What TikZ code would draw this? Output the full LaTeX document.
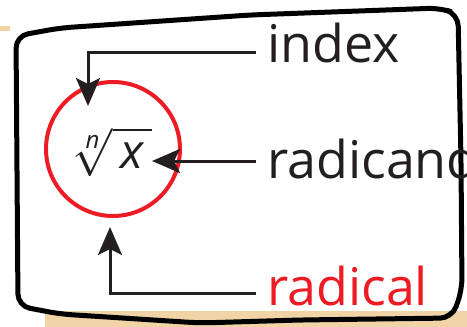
\documentclass[tikz,border=0pt]{standalone}
\usepackage{amsmath}
\usepackage{fontspec}
\setmainfont{Open Sans}
\usetikzlibrary{arrows.meta}
\definecolor{ink}{RGB}{35,31,32}
\definecolor{mark}{RGB}{237,28,36}
\definecolor{paper}{RGB}{240,212,165}
\tikzset{
  % arrow from a label to the part it names
  pointer/.style={draw=ink, line width=3pt, -{Stealth[length=28pt, width=24pt, inset=6pt]}},
  term/.style={anchor=base west, inner xsep=11pt, inner ysep=0pt, text=ink,
    font=\fontsize{52}{56}\selectfont},
  ring/.style={circle, draw=mark, line width=4pt, minimum size=134pt, inner sep=0pt},
  frame/.style={draw=black, line width=5pt, rounded corners=12pt},
}

\begin{document}
\begin{tikzpicture}[x=1pt, y=-1pt]
  \useasboundingbox (0,0) rectangle (467,327);

  % paper showing under the frame
  \fill[paper] (45,311) rectangle (467,327);
  \fill[paper] (0,26) rectangle (10,31);

  \draw[frame] (16,36) -- (60,28) -- (250,15) -- (440,8) -- (458,14) -- (461,160)
    -- (462,290) -- (452,318) -- (300,320) -- (200,323) -- (60,314) -- (18,306) -- cycle;

  \node [ring] at (113,149) (ring) {};
  \node [text=ink, inner sep=0pt, scale=4.8, transform shape] at (112,152) (root)
    {$\sqrt[\textit{n}]{\vphantom{\textit{(}}\,\textit{x}\,}$};

  \node [term] at (256,62) (index) {index};
  \node [term] at (256,178) (radicand) {radicand};
  \node [term, text=mark] at (256,305) (radical) {radical};

  \coordinate (indexTip) at (88,106);
  \coordinate (radicandTip) at (152,161);
  \coordinate (radicalTip) at (110,227);

  \draw [pointer] ([yshift=10pt]index.base west) -| (indexTip);
  \draw [pointer] ([yshift=17pt]radicand.base west) -- (radicandTip);
  \draw [pointer] ([yshift=12pt]radical.base west) -| (radicalTip);

\end{tikzpicture}
\end{document}
